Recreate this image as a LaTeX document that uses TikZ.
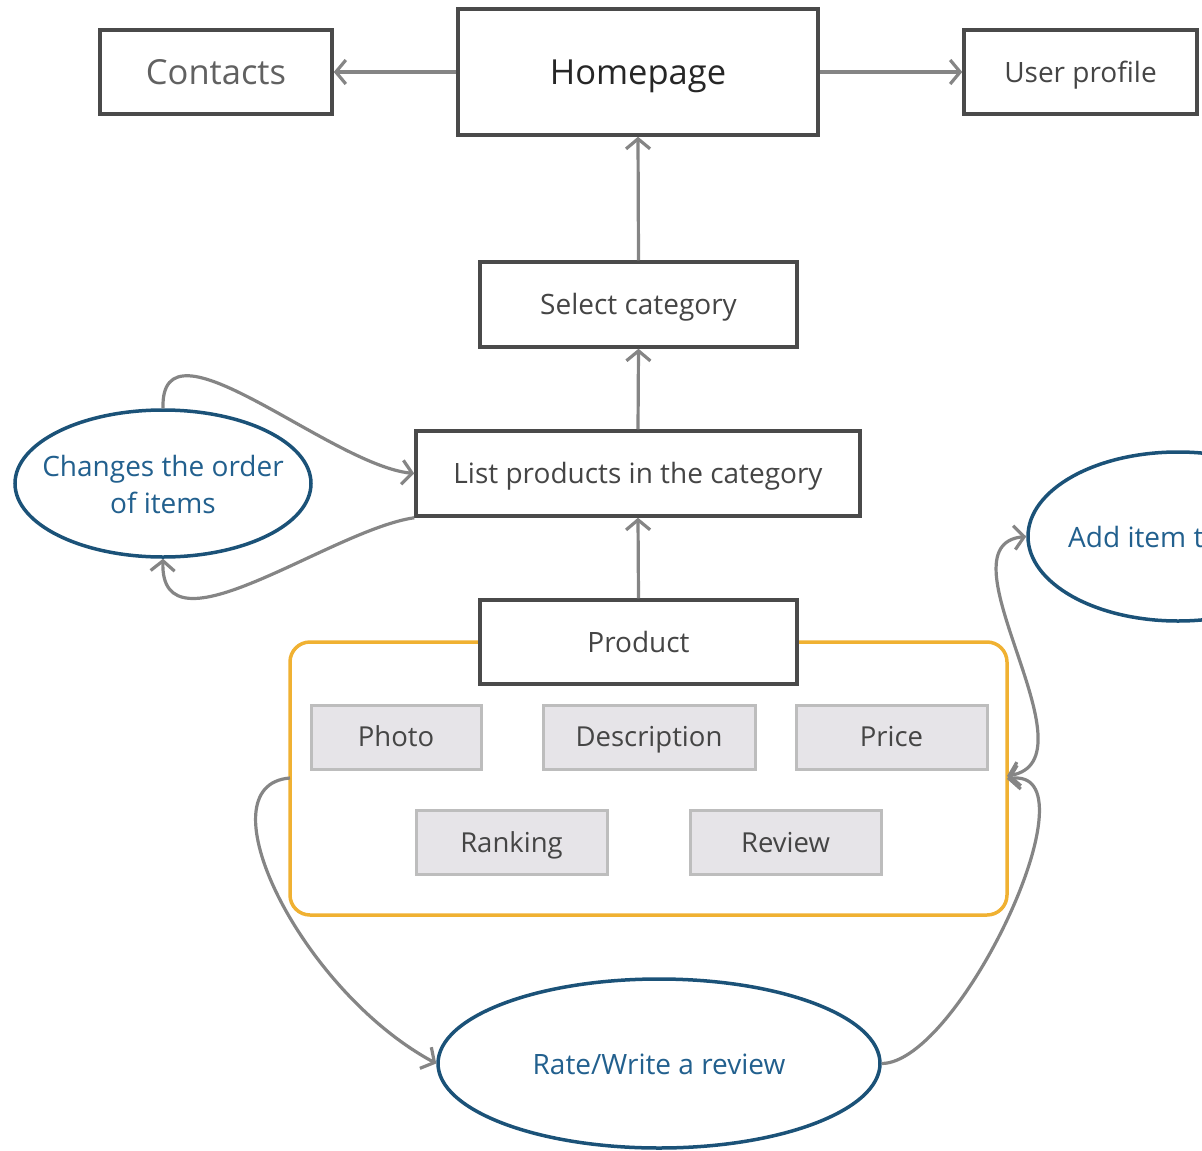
\documentclass[tikz,border=0pt]{standalone}
\usepackage{fontspec}
\setmainfont{Open Sans}
\usetikzlibrary{arrows.meta,shapes.geometric}
\definecolor{boxline}{HTML}{4A4A4A}
\definecolor{arrgray}{HTML}{858585}
\definecolor{ellblue}{HTML}{1B5278}
\definecolor{txtblue}{HTML}{22608E}
\definecolor{orng}{HTML}{F0B132}
\definecolor{chipfill}{HTML}{E6E4E8}
\definecolor{chipline}{HTML}{BDBDBD}
\definecolor{txtgray}{HTML}{454545}
\tikzset{
  pagebox/.style={draw=boxline, line width=3.5pt, fill=white, inner sep=0pt, text=txtgray},
  chip/.style={draw=chipline, line width=3pt, fill=chipfill, inner sep=0pt, text=txtgray,
     minimum height=64pt, font=\fontsize{27.5}{32}\selectfont, text height=26.5pt, text depth=6.9pt},
  oval/.style={ellipse, draw=ellblue, line width=3.5pt, fill=white, inner sep=0pt},
  ovaltext/.style={text=txtblue, font=\fontsize{28}{37}\selectfont, align=center, inner sep=0pt},
  midline/.style={text height=27pt, text depth=7pt},
  conn/.style={draw=arrgray, line width=3.2pt, -{Straight Barb[length=10pt,width=24pt,line width=3.2pt]}},
  conn2/.style={draw=arrgray, line width=3.2pt, {Straight Barb[length=10pt,width=24pt,line width=3.2pt]}-{Straight Barb[length=10pt,width=24pt,line width=3.2pt]}},
  big/.style={font=\fontsize{34.5}{40}\selectfont, text height=33.2pt, text depth=8.6pt},
  mid/.style={font=\fontsize{28}{33}\selectfont, midline}
}
\begin{document}
\begin{tikzpicture}[x=1pt,y=-1pt]
\useasboundingbox (0,0) rectangle (1202,1151);
\clip (0,0) rectangle (1202,1151);
% container
\node[draw=orng, line width=3.5pt, rounded corners=20pt, minimum width=717pt, minimum height=273pt, inner sep=0pt] (grp) at (648.5,778.5) {};
% boxes
\node[pagebox, big, minimum width=232pt, minimum height=84pt, text=txtgray!85] (contacts) at (216,72) {Contacts};
\node[pagebox, big, minimum width=360pt, minimum height=126pt, text=black!85] (home) at (638,72) {Homepage};
\node[pagebox, mid, minimum width=233pt, minimum height=84pt] (user) at (1080.5,72) {User profile};
\node[pagebox, mid, minimum width=317pt, minimum height=85pt] (sel) at (638.5,304.5) {Select category};
\node[pagebox, mid, minimum width=444pt, minimum height=85pt] (list) at (638,473.5) {List products in the category};
\node[pagebox, mid, minimum width=317pt, minimum height=84pt] (prod) at (638.5,642) {Product};
% chips
\node[chip, minimum width=170pt] (photo) at (396,737) {Photo};
\node[chip, minimum width=212pt] (desc) at (649,737) {Description};
\node[chip, minimum width=191pt] (price) at (891.5,737) {Price};
\node[chip, minimum width=191pt] (rank) at (511.5,842.5) {Ranking};
\node[chip, minimum width=191pt] (rev) at (785.5,842.5) {Review};
% ellipses
\node[oval, minimum width=296pt, minimum height=147pt] (chg) at (163,483.5) {};
\node[ovaltext] (chgtxt) at (163,484) {Changes the order\\of items};
\node[oval, minimum width=442pt, minimum height=169pt] (rate) at (659,1063.5) {};
\node[ovaltext, midline] (ratetxt) at (659,1064) {Rate/Write a review};
\node[oval, minimum width=300pt, minimum height=169pt] (add) at (1178,536.5) {};
\node[ovaltext, anchor=west, midline] (addtxt) at (1068,537) {Add item t};
% connectors
\draw[conn] (home.west) -- (contacts.east);
\draw[conn] (home.east) -- (user.west);
\draw[conn] (sel.north) -- (home.south);
\draw[conn] (list.north) -- (sel.south);
\draw[conn] (prod.north) -- (list.south);
\coordinate (lsw) at (list.south west);
\coordinate (gl) at (290,778);
\coordinate (gr) at (1007,779);
\coordinate (gr2) at (1007,776);
\draw[conn] (chg.north) .. controls (160,310) and (330,465) .. (list.west);
\draw[conn] (lsw) .. controls (330,530) and (160,660) .. (chg.south);
\draw[conn] (gl) .. controls (200,785) and (300,990) .. (rate.west);
\draw[conn] (rate.east) .. controls (960,1063) and (1100,765) .. (gr);
\draw[conn2] (gr2) .. controls (1100,760) and (935,545) .. (add.west);
\end{tikzpicture}
\end{document}
